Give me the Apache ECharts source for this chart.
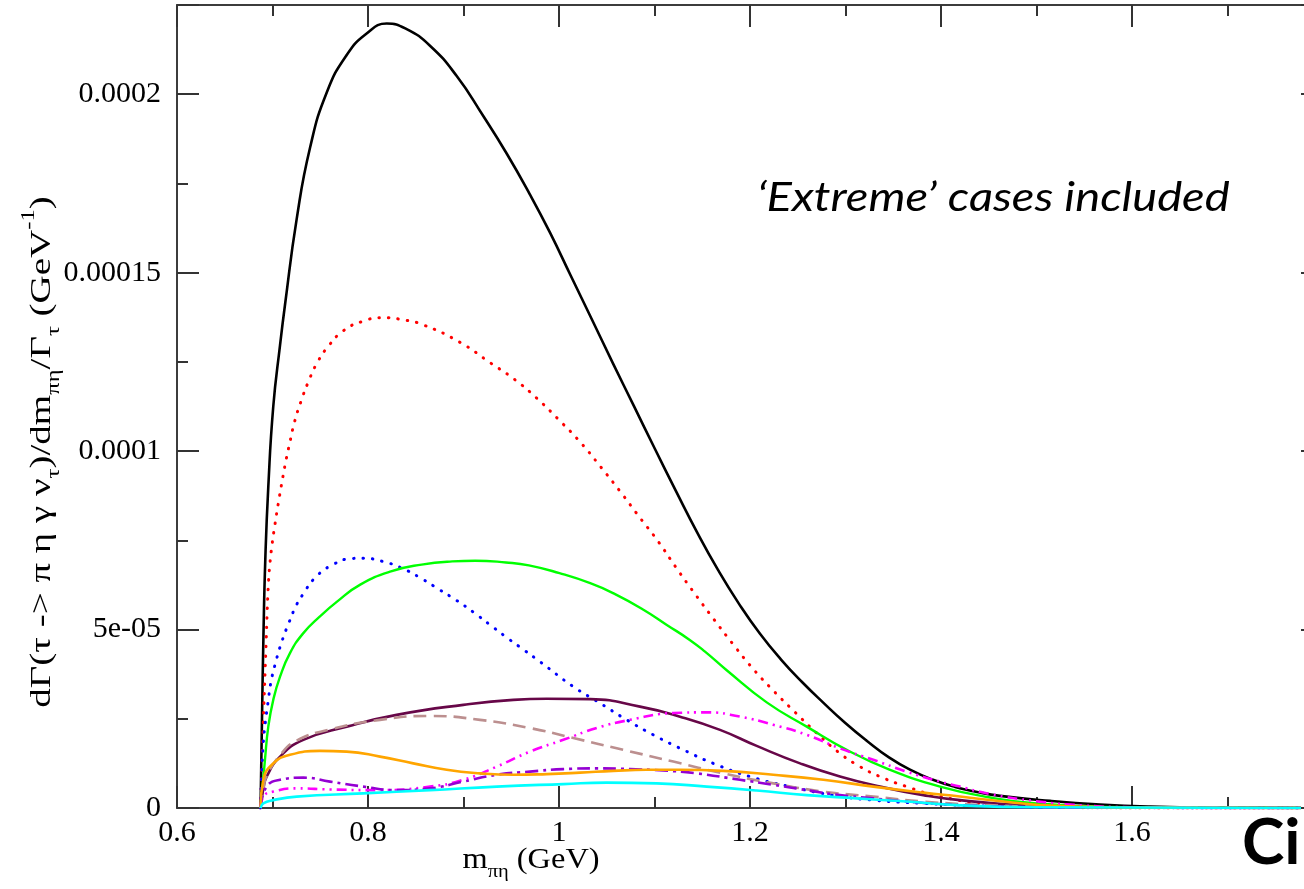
<!DOCTYPE html>
<html>
<head>
<meta charset="utf-8">
<script src="https://cdn.jsdelivr.net/npm/echarts@6/dist/echarts.min.js"></script>
<style>
  html, body { margin: 0; padding: 0; background: #ffffff; }
  #chart { width: 1304px; height: 889px; }
</style>
</head>
<body>
<div id="chart"></div>
<script>
// Differential rate dΓ/dm_πη / Γ_τ versus m_πη (GeV).
// Each curve is a list of [m_πη, value] with value in units of 1e-6 GeV^-1.
const blackCurve = [[0.6875,0],[0.689,25],[0.6905,48],[0.6925,70],[0.6956,90],[0.7008,112.5],[0.7079,129.7],[0.7131,141.0],[0.7253,165.0],[0.7393,185.0],[0.7568,200.5],[0.7777,211.0],[0.7986,217.0],[0.8196,219.8],[0.84,218.3],[0.8649,213.6],[0.8929,205.1],[0.9207,193.9],[0.9452,183.4],[0.9696,171.9],[0.9906,161.2],[1.0126,149.0],[1.0346,136.8],[1.0565,124.6],[1.0785,112.6],[1.1005,100.6],[1.1225,88.8],[1.1445,77.3],[1.1665,66.7],[1.1885,57.2],[1.2105,48.8],[1.2325,41.6],[1.2545,35.3],[1.2764,29.6],[1.2995,23.9],[1.3225,18.8],[1.3455,14.2],[1.3686,10.6],[1.3916,7.9],[1.4147,5.9],[1.4377,4.5],[1.4618,3.4],[1.5141,2.0],[1.5665,1.0],[1.6188,0.42],[1.69,0.1],[1.777,0]];
const redCurve = [[0.6875,0],[0.6905,25],[0.6935,47.7],[0.6942,53.4],[0.6956,62.2],[0.6971,67.9],[0.6995,73.7],[0.7026,79.5],[0.7061,85.4],[0.7099,91.3],[0.7138,97.0],[0.7183,102.6],[0.7232,108.3],[0.7298,113.9],[0.7375,119.4],[0.7469,124.8],[0.7588,129.5],[0.7741,133.7],[0.7937,136.3],[0.815,137.4],[0.8366,136.8],[0.8576,135.4],[0.8962,130.5],[0.9283,124.7],[0.9524,120.3],[0.9764,114.9],[1.0005,108.6],[1.023,102.3],[1.0439,95.5],[1.0643,88.6],[1.084,81.6],[1.1041,74.6],[1.1225,67.4],[1.1418,60.2],[1.1618,53.0],[1.1819,46.0],[1.2035,38.9],[1.2244,32.9],[1.2454,27.3],[1.2698,21.0],[1.2942,15.3],[1.3152,11.6],[1.3361,8.8],[1.3641,6.0],[1.399,3.2],[1.4618,0.8],[1.52,0.2],[1.6,0.03],[1.777,0]];
const blueCurve = [[0.6875,0],[0.6885,8],[0.6904,18.4],[0.6925,24.0],[0.6953,29.6],[0.6984,35.3],[0.7034,40.9],[0.7096,46.5],[0.7173,52.0],[0.7253,57.0],[0.7317,59.8],[0.7446,64.5],[0.7626,68.1],[0.783,69.9],[0.7939,70.0],[0.8152,69.1],[0.8364,67.1],[0.8553,64.4],[0.8741,61.3],[0.8926,58.2],[0.9107,54.8],[0.9279,51.3],[0.9451,47.8],[0.9632,44.3],[0.9801,41.0],[1.015,34.0],[1.0429,29.4],[1.0709,24.7],[1.0987,20.5],[1.1302,16.3],[1.1616,12.5],[1.2,8.8],[1.2419,6.0],[1.2872,3.6],[1.3291,2.2],[1.3815,1.3],[1.45,0.5],[1.55,0.1],[1.777,0]];
const greenCurve = [[0.6875,0],[0.6887,3.2],[0.6921,13.5],[0.6956,22.8],[0.7008,30.3],[0.7079,36.8],[0.7183,43.4],[0.7323,49.0],[0.7497,53.7],[0.7679,57.9],[0.7919,62.6],[0.824,66.3],[0.8561,68.2],[0.8882,69.1],[0.9123,69.3],[0.9444,68.8],[0.9685,68.0],[1.0005,65.8],[1.0327,63.0],[1.0567,60.2],[1.0888,55.5],[1.1129,51.3],[1.1369,47.1],[1.1529,43.8],[1.1756,38.6],[1.2175,29.6],[1.2594,22.8],[1.3012,16.3],[1.3466,10.7],[1.399,6.0],[1.45,3.0],[1.5,1.3],[1.6,0.2],[1.777,0]];
const maroonCurve = [[0.6875,0],[0.6905,5.5],[0.6939,8.8],[0.7079,14.4],[0.7323,19.1],[0.7777,22.8],[0.83,26.1],[0.8998,28.9],[0.9522,30.3],[0.9871,30.6],[1.0325,30.5],[1.0848,28.4],[1.1267,25.6],[1.1686,21.9],[1.207,17.4],[1.2524,12.5],[1.2942,8.8],[1.3361,6.0],[1.3815,3.6],[1.4199,2.2],[1.5,0.6],[1.6,0.1],[1.777,0]];
const brownDashed = [[0.6875,0],[0.6905,5.5],[0.6939,9.0],[0.7079,14.8],[0.7253,18.9],[0.7602,22.0],[0.8126,24.7],[0.8649,25.8],[0.9173,24.7],[0.9696,22.4],[1.015,19.6],[1.0673,16.3],[1.1197,13.0],[1.172,9.7],[1.2244,6.9],[1.2768,4.6],[1.3291,3.2],[1.3815,1.8],[1.45,0.8],[1.55,0.2],[1.777,0]];
const magentaCurve = [[0.6875,0],[0.6904,3.2],[0.7008,4.6],[0.7253,5.5],[0.7602,5.2],[0.8126,5.0],[0.8649,6.0],[0.8998,7.9],[0.9348,11.6],[0.9696,15.8],[1.0045,19.1],[1.0395,22.4],[1.0743,24.7],[1.1197,26.6],[1.1547,26.8],[1.1895,25.6],[1.2244,23.3],[1.2594,20.5],[1.2942,16.7],[1.3291,13.5],[1.3641,10.2],[1.399,7.4],[1.4199,6.0],[1.45,4.0],[1.5,1.9],[1.55,0.7],[1.6,0.2],[1.7,0.02],[1.777,0]];
const violetCurve = [[0.6875,0],[0.6939,6.0],[0.7079,7.9],[0.7323,8.5],[0.7602,7.4],[0.7951,6.0],[0.83,5.0],[0.8649,5.5],[0.8998,7.4],[0.9348,9.3],[0.9696,10.2],[1.0045,10.9],[1.0395,11.1],[1.0743,10.9],[1.1092,10.5],[1.1442,9.7],[1.1895,7.9],[1.2244,6.5],[1.2594,5.0],[1.2942,3.6],[1.3291,2.7],[1.3641,1.8],[1.399,1.1],[1.45,0.5],[1.55,0.1],[1.777,0]];
const orangeCurve = [[0.6875,0],[0.6904,7.9],[0.7008,12.5],[0.7183,14.9],[0.7497,16.0],[0.7777,15.8],[0.8126,14.4],[0.8474,12.5],[0.8824,10.7],[0.9173,9.7],[0.9522,9.3],[0.9871,9.5],[1.022,9.9],[1.0569,10.4],[1.0918,10.7],[1.1267,10.7],[1.172,10.4],[1.2244,9.3],[1.2768,7.9],[1.3291,6.0],[1.3815,4.3],[1.4199,3.2],[1.47,1.7],[1.52,0.6],[1.6,0.1],[1.777,0]];
const cyanCurve = [[0.6875,0],[0.6904,1.3],[0.7008,2.2],[0.7253,3.2],[0.7951,4.1],[0.8649,5.0],[0.9348,6.0],[1.0045,6.7],[1.05,7.1],[1.1023,6.9],[1.1547,6.0],[1.207,4.9],[1.2594,3.6],[1.3117,2.7],[1.3641,1.8],[1.4164,0.8],[1.5,0.2],[1.777,0]];

// Axis ticks and their printed labels (y in units of 1e-6 GeV^-1)
const xTickValues = [0.6, 0.8, 1.0, 1.2, 1.4, 1.6, 1.8];
const xTickLabels = ['0.6', '0.8', '1', '1.2', '1.4', '1.6', '1.8'];
const yTickValues = [0, 50, 100, 150, 200];
const yTickLabels = ['0', '5e-05', '0.0001', '0.00015', '0.0002'];

function tickText(values, labels, v) {
  const i = values.findIndex(t => Math.abs(t - v) < 1e-6);
  return i < 0 ? '' : labels[i];
}

const serif = 'Liberation Serif';
const frameLine = { show: true, onZero: false, lineStyle: { color: '#3c3c3c', width: 2 } };
const tickLine = { color: '#333333', width: 2 };

function curve(data, color, width, dash, cap) {
  return {
    type: 'line',
    data: data,
    showSymbol: false,
    smooth: 0.5,
    clip: true,
    silent: true,
    lineStyle: { color: color, width: width, type: dash || 'solid', cap: cap || 'butt', join: 'round' }
  };
}

const chart = echarts.init(document.getElementById('chart'), null, { renderer: 'canvas' });

chart.setOption({
  animation: false,
  backgroundColor: '#ffffff',
  grid: { left: 177, right: -19, top: 5, bottom: 81, containLabel: false, outerBoundsMode: 'none' },
  xAxis: [
    {
      type: 'value', min: 0.6, max: 1.8, interval: 0.2, position: 'bottom',
      axisLine: frameLine,
      axisTick: { show: true, inside: true, length: 22, lineStyle: tickLine },
      minorTick: { show: true, splitNumber: 2, length: 11, lineStyle: tickLine },
      splitLine: { show: false },
      axisLabel: {
        margin: 10, color: '#000', fontFamily: serif, fontSize: 30,
        formatter: v => tickText(xTickValues, xTickLabels, v)
      }
    },
    {
      type: 'value', min: 0.6, max: 1.8, interval: 0.2, position: 'top',
      axisLine: frameLine,
      axisTick: { show: true, inside: true, length: 22, lineStyle: tickLine },
      minorTick: { show: true, splitNumber: 2, length: 11, lineStyle: tickLine },
      splitLine: { show: false },
      axisLabel: { show: false }
    }
  ],
  yAxis: [
    {
      type: 'value', min: 0, max: 225, interval: 50, position: 'left',
      axisLine: frameLine,
      axisTick: { show: true, inside: true, length: 22, lineStyle: tickLine },
      splitLine: { show: false },
      axisLabel: {
        margin: 16, color: '#000', fontFamily: serif, fontSize: 30,
        formatter: v => tickText(yTickValues, yTickLabels, v)
      }
    },
    {
      type: 'value', min: 0, max: 225, interval: 25, position: 'left',
      axisLine: { show: false },
      axisTick: { show: true, inside: true, length: 11, lineStyle: tickLine },
      splitLine: { show: false },
      axisLabel: { show: false }
    },
    {
      type: 'value', min: 0, max: 225, interval: 50, position: 'right',
      axisLine: frameLine,
      axisTick: { show: true, inside: true, length: 22, lineStyle: tickLine },
      splitLine: { show: false },
      axisLabel: { show: false }
    },
    {
      type: 'value', min: 0, max: 225, interval: 25, position: 'right',
      axisLine: { show: false },
      axisTick: { show: true, inside: true, length: 11, lineStyle: tickLine },
      splitLine: { show: false },
      axisLabel: { show: false }
    }
  ],
  series: [
    curve(blackCurve, '#000000', 2.6),
    curve(redCurve, '#ff0000', 3, [0.5, 9], 'round'),
    curve(blueCurve, '#0000ff', 3, [0.5, 9], 'round'),
    curve(greenCurve, '#00ff00', 2.4),
    curve(maroonCurve, '#670748', 2.6),
    curve(brownDashed, '#bc8f8f', 2.6, [13, 7]),
    curve(magentaCurve, '#ff00ff', 2.6, [10, 5, 2, 5, 2, 5]),
    curve(violetCurve, '#9400d3', 2.6, [13, 5, 3, 5]),
    curve(orangeCurve, '#ffa500', 2.6),
    curve(cyanCurve, '#00ffff', 2.6)
  ],
  graphic: [
    {
      type: 'text', x: 42, y: 452, rotation: Math.PI / 2, scaleX: 1.3, silent: true,
      style: {
        text: '{m|dΓ(τ -> π η γ ν}{s|τ}{m|)/dm}{s|πη}{m|/Γ}{s|τ}{m| (GeV}{p|-1}{m|)}',
        align: 'center', verticalAlign: 'middle', fill: '#000',
        fontFamily: serif, fontSize: 30,
        rich: {
          m: { fontFamily: serif, fontSize: 30, lineHeight: 44, verticalAlign: 'middle', fill: '#000' },
          s: { fontFamily: serif, fontSize: 19, lineHeight: 19, verticalAlign: 'bottom', fill: '#000' },
          p: { fontFamily: serif, fontSize: 19, lineHeight: 19, verticalAlign: 'top', fill: '#000' }
        }
      }
    },
    {
      type: 'text', x: 531, y: 860, scaleX: 1.08, silent: true,
      style: {
        text: '{m|m}{s|πη}{m| (GeV)}',
        align: 'center', verticalAlign: 'middle', fill: '#000',
        fontFamily: serif, fontSize: 30,
        rich: {
          m: { fontFamily: serif, fontSize: 30, lineHeight: 44, verticalAlign: 'middle', fill: '#000' },
          s: { fontFamily: serif, fontSize: 19, lineHeight: 19, verticalAlign: 'bottom', fill: '#000' }
        }
      }
    },
    {
      type: 'text', x: 757, y: 198, scaleX: 1.15, silent: true,
      style: {
        text: '‘Extreme’ cases included',
        align: 'left', verticalAlign: 'middle', fill: '#000',
        fontFamily: 'Lato', fontStyle: 'italic', fontSize: 41
      }
    },
    {
      type: 'text', x: 1242, y: 843, silent: true,
      style: {
        text: 'Ci',
        align: 'left', verticalAlign: 'middle', fill: '#000',
        fontFamily: 'Lato', fontWeight: 'bold', fontSize: 64
      }
    }
  ]
});
</script>
</body>
</html>
